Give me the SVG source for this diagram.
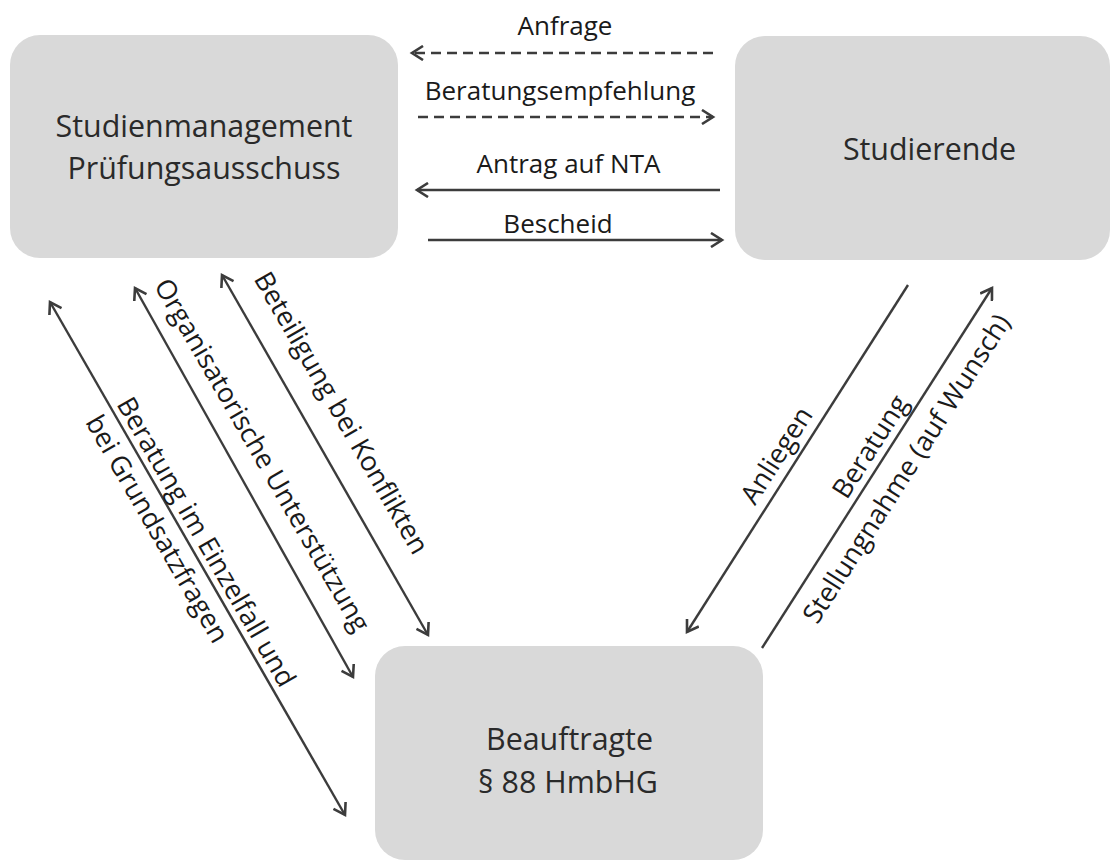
<svg xmlns="http://www.w3.org/2000/svg" width="1113" height="863" viewBox="0 0 1113 863">
<style>
.box{fill:#d9d9d9;}
.nt{font-family:"Open Sans","Noto Sans",sans-serif;font-size:30.4px;fill:#2a2a2a;text-anchor:middle;}
.lt{font-family:"Open Sans","Noto Sans",sans-serif;font-size:26px;fill:#1a1a1a;}
.dg{font-size:27px;}
.c{text-anchor:middle;}
.ln{stroke:#3c3c3c;stroke-width:2.4;fill:none;}
.d{stroke-dasharray:10 6;}
</style>
<defs>
<marker id="ah" markerUnits="userSpaceOnUse" markerWidth="16" markerHeight="16" viewBox="-13 -8 16 16" refX="0" refY="0" orient="auto-start-reverse">
<path d="M-11,-7 L0,0 L-11,7" fill="none" stroke="#3c3c3c" stroke-width="2.6"/>
</marker>
</defs>
<rect width="1113" height="863" fill="#fff"/>
<g id="node-studienmanagement">
<rect class="box" x="10" y="35" width="388" height="223" rx="30"/>
<text class="nt" x="204" y="137">Studienmanagement</text>
<text class="nt" x="204" y="179">Prüfungsausschuss</text>
</g>
<g id="node-studierende">
<rect class="box" x="735" y="36" width="375" height="224" rx="30"/>
<text class="nt" x="929.5" y="160">Studierende</text>
</g>
<g id="node-beauftragte">
<rect class="box" x="375" y="646" width="388" height="214" rx="30"/>
<text class="nt" x="569.5" y="750">Beauftragte</text>
<text class="nt" x="568" y="793">§ 88 HmbHG</text>
</g>
<g id="connectors">
<line class="ln d" x1="713" y1="53" x2="412" y2="53" marker-end="url(#ah)"/>
<line class="ln d" x1="418" y1="117" x2="713" y2="117" marker-end="url(#ah)"/>
<line class="ln" x1="720" y1="190" x2="417" y2="190" marker-end="url(#ah)"/>
<line class="ln" x1="428" y1="240" x2="722" y2="240" marker-end="url(#ah)"/>
<line class="ln" x1="50" y1="302" x2="345" y2="815" marker-start="url(#ah)" marker-end="url(#ah)"/>
<line class="ln" x1="135" y1="288" x2="353" y2="677" marker-start="url(#ah)" marker-end="url(#ah)"/>
<line class="ln" x1="222" y1="275" x2="428" y2="635" marker-start="url(#ah)" marker-end="url(#ah)"/>
<line class="ln" x1="908" y1="285" x2="687" y2="632" marker-end="url(#ah)"/>
<line class="ln" x1="762" y1="648" x2="992" y2="288" marker-end="url(#ah)"/>
<text class="lt c" x="565" y="35">Anfrage</text>
<text class="lt c" x="560" y="100">Beratungsempfehlung</text>
<text class="lt c" x="568.5" y="173">Antrag auf NTA</text>
<text class="lt c" x="558" y="233">Bescheid</text>
<text class="lt dg c" transform="translate(333.4,417.5) rotate(60)">Beteiligung bei Konflikten</text>
<text class="lt dg c" transform="translate(254.2,459.7) rotate(60)">Organisatorische Unterstützung</text>
<text class="lt dg" transform="translate(116,404) rotate(60)"><tspan x="0" y="0">Beratung im Einzelfall und</tspan><tspan x="0" y="36">bei Grundsatzfragen</tspan></text>
<text class="lt dg c" transform="translate(784.4,460.3) rotate(-57.4)">Anliegen</text>
<text class="lt dg c" transform="translate(878,451.5) rotate(-57.4)">Beratung</text>
<text class="lt dg c" transform="translate(914.3,473.6) rotate(-57.4)">Stellungnahme (auf Wunsch)</text>
</g>
</svg>
